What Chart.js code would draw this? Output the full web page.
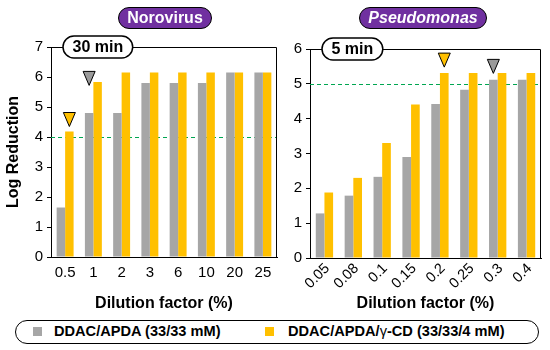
<!DOCTYPE html>
<html>
<head>
<meta charset="utf-8">
<script src="https://cdn.jsdelivr.net/npm/chart.js@4"></script>
<style>
  body { margin: 0; background: #fff; }
  #wrap { position: relative; width: 550px; height: 350px; overflow: hidden; font-family: 'Liberation Sans', Arial, sans-serif; }
  canvas { position: absolute; top: 0; }
  .pill { position: absolute; top: 7px; height: 20px; line-height: 20px; border: 1.5px solid #000; border-radius: 12px;
          background: #7030a0; color: #fff; font-weight: bold; font-size: 16px; text-align: center; }
  #legend { position: absolute; left: 15px; top: 320px; width: 522px; height: 22px; border: 1.5px solid #000; border-radius: 13px; }
  .sw { position: absolute; top: 6px; width: 9px; height: 9px; }
  .lt { position: absolute; top: 2px; font-size: 14.6px; font-weight: bold; white-space: nowrap; }
  .lt span { font-weight: normal; }
</style>
</head>
<body>
<div id="wrap">
  <canvas id="noro" width="280" height="315" style="left:0"></canvas>
  <canvas id="pseudo" width="270" height="315" style="left:280px"></canvas>
  <div class="pill" style="left:118px; width:92px">Norovirus</div>
  <div class="pill" style="left:359px; width:126px; font-style:italic">Pseudomonas</div>
  <div id="legend">
    <div class="sw" style="left:17px; background:#a6a6a6"></div>
    <div class="lt" style="left:38px">DDAC/APDA (33/33 mM)</div>
    <div class="sw" style="left:249px; background:#ffc000"></div>
    <div class="lt" style="left:272px">DDAC/APDA/<span>γ</span>-CD (33/33/4 mM)</div>
  </div>
</div>
<script>
'use strict';

var GRAY   = '#a6a6a6';
var YELLOW = '#ffc000';
var FONT   = "'Liberation Sans', Arial, sans-serif";

var seriesNames = ['DDAC/APDA (33/33 mM)', 'DDAC/APDA/γ-CD (33/33/4 mM)'];

// Norovirus, 30 min
var noroCats  = ['0.5', '1', '2', '3', '6', '10', '20', '25'];
var noroBase  = [1.65, 4.8, 4.8, 5.8, 5.8, 5.8, 6.15, 6.15];
var noroCd    = [4.18, 5.83, 6.15, 6.15, 6.15, 6.15, 6.15, 6.15];
var noroTicks = [0, 1, 2, 3, 4, 5, 6, 7];
var noroLimit = 4;
var noroMarkIdx    = [0, 1];
var noroMarkSeries = [1, 0];
var noroMarkLevel  = [4.35, 5.72];

// Pseudomonas, 5 min
var pseudoCats  = ['0.05', '0.08', '0.1', '0.15', '0.2', '0.25', '0.3', '0.4'];
var pseudoBase  = [1.28, 1.79, 2.33, 2.9, 4.42, 4.83, 5.12, 5.12];
var pseudoCd    = [1.88, 2.3, 3.3, 4.41, 5.31, 5.31, 5.31, 5.31];
var pseudoTicks = [0, 1, 2, 3, 4, 5, 6];
var pseudoLimit = 5;
var pseudoMarkIdx    = [4, 6];
var pseudoMarkSeries = [1, 0];
var pseudoMarkLevel  = [5.48, 5.3];

Chart.defaults.font.family = FONT;
Chart.defaults.color = '#000';

var overlay = {
	id: 'overlay',
	beforeDatasetsDraw: function(chart, args, opts) {
		// threshold line, behind the bars
		var ctx = chart.ctx, a = chart.chartArea, y = chart.scales.y;
		var ty = Math.round(y.getPixelForValue(opts.limit)) + 0.5;
		ctx.save();
		ctx.strokeStyle = '#00a651';
		ctx.lineWidth = 1;
		ctx.setLineDash([4, 3]);
		ctx.beginPath();
		ctx.moveTo(a.left, ty);
		ctx.lineTo(a.right, ty);
		ctx.stroke();
		ctx.restore();
	},
	afterDatasetsDraw: function(chart, args, opts) {
		var ctx = chart.ctx, a = chart.chartArea, y = chart.scales.y;
		ctx.save();

		// box frame, top and right
		ctx.strokeStyle = '#000';
		ctx.lineWidth = 1;
		ctx.beginPath();
		ctx.moveTo(a.left, a.top + 0.5);
		ctx.lineTo(a.right - 0.5, a.top + 0.5);
		ctx.lineTo(a.right - 0.5, a.bottom);
		ctx.stroke();

		// triangles
		opts.markIdx.forEach(function(idx, i) {
			var s = opts.markSeries[i];
			var bar = chart.getDatasetMeta(s).data[idx];
			var cx = bar.x;
			var tip = y.getPixelForValue(opts.markLevel[i]);
			ctx.beginPath();
			ctx.moveTo(cx, tip);
			ctx.lineTo(cx - 6, tip - 14);
			ctx.lineTo(cx + 6, tip - 14);
			ctx.closePath();
			ctx.fillStyle = s === 0 ? '#9a9a9a' : YELLOW;
			ctx.fill();
			ctx.strokeStyle = '#000';
			ctx.lineWidth = 1;
			ctx.stroke();
		});

		// time label
		ctx.font = 'bold 16px ' + FONT;
		var w = ctx.measureText(opts.time).width + 19;
		var bx = a.left + 12, by = a.top - 11, h = 22, r = 11;
		ctx.beginPath();
		ctx.moveTo(bx + r, by);
		ctx.lineTo(bx + w - r, by);
		ctx.arc(bx + w - r, by + r, r, -Math.PI / 2, Math.PI / 2);
		ctx.lineTo(bx + r, by + h);
		ctx.arc(bx + r, by + r, r, Math.PI / 2, Math.PI * 1.5);
		ctx.closePath();
		ctx.fillStyle = '#fff';
		ctx.fill();
		ctx.lineWidth = 1.5;
		ctx.strokeStyle = '#000';
		ctx.stroke();
		ctx.fillStyle = '#000';
		ctx.textAlign = 'center';
		ctx.textBaseline = 'middle';
		ctx.fillText(opts.time, bx + w / 2, by + h / 2 + 1);

		ctx.restore();
	}
};

function makeChart(id, cats, base, cd, ticks, cfg) {
	var yMax = ticks[ticks.length - 1];
	return new Chart(document.getElementById(id), {
		type: 'bar',
		data: {
			labels: cats,
			datasets: [
				{ label: seriesNames[0], data: base, backgroundColor: GRAY },
				{ label: seriesNames[1], data: cd, backgroundColor: YELLOW }
			]
		},
		options: {
			responsive: false,
			animation: false,
			categoryPercentage: 0.6,
			barPercentage: 1,
			layout: { padding: cfg.padding },
			plugins: {
				legend: { display: false },
				tooltip: { enabled: false },
				overlay: {
					limit: cfg.limit, time: cfg.time,
					markIdx: cfg.markIdx, markSeries: cfg.markSeries, markLevel: cfg.markLevel
				}
			},
			scales: {
				x: {
					grid: { display: false, drawTicks: false },
					border: { display: true, color: '#000', width: 1 },
					ticks: {
						font: { size: cfg.xFont }, padding: cfg.xPad, labelOffset: cfg.xShift,
						minRotation: cfg.rot, maxRotation: cfg.rot, autoSkip: false
					},
					title: {
						display: true, text: 'Dilution factor (%)',
						font: { size: 16, weight: 'bold' }, padding: { top: 0, bottom: 0 }
					},
					afterFit: function(s) { s.height = cfg.xHeight; }
				},
				y: {
					min: 0, max: yMax,
					grid: { display: true, drawOnChartArea: false, drawTicks: true, tickLength: 4, color: '#000' },
					border: { display: true, color: '#000', width: 1 },
					ticks: { font: { size: 15 }, stepSize: 1, padding: 4 },
					afterBuildTicks: function(s) { s.ticks = ticks.map(function(v) { return { value: v }; }); },
					title: {
						display: cfg.yTitle, text: 'Log Reduction',
						font: { size: 16, weight: 'bold' }, padding: { top: 0, bottom: 0 }
					},
					afterFit: function(s) { s.width = cfg.yWidth; }
				}
			}
		},
		plugins: [overlay]
	});
}

makeChart('noro', noroCats, noroBase, noroCd, noroTicks, {
	padding: { top: 47, left: 4, right: 3, bottom: 2 },
	xHeight: 56, yWidth: 47, yTitle: true, rot: 0, xPad: 7, xFont: 15, xShift: 0,
	limit: noroLimit, time: '30 min',
	markIdx: noroMarkIdx, markSeries: noroMarkSeries, markLevel: noroMarkLevel
});

makeChart('pseudo', pseudoCats, pseudoBase, pseudoCd, pseudoTicks, {
	padding: { top: 49, left: 0, right: 9, bottom: 2 },
	xHeight: 55, yWidth: 30, yTitle: false, rot: 45, xPad: 2, xFont: 14.5, xShift: 3,
	limit: pseudoLimit, time: '5 min',
	markIdx: pseudoMarkIdx, markSeries: pseudoMarkSeries, markLevel: pseudoMarkLevel
});
</script>
</body>
</html>
